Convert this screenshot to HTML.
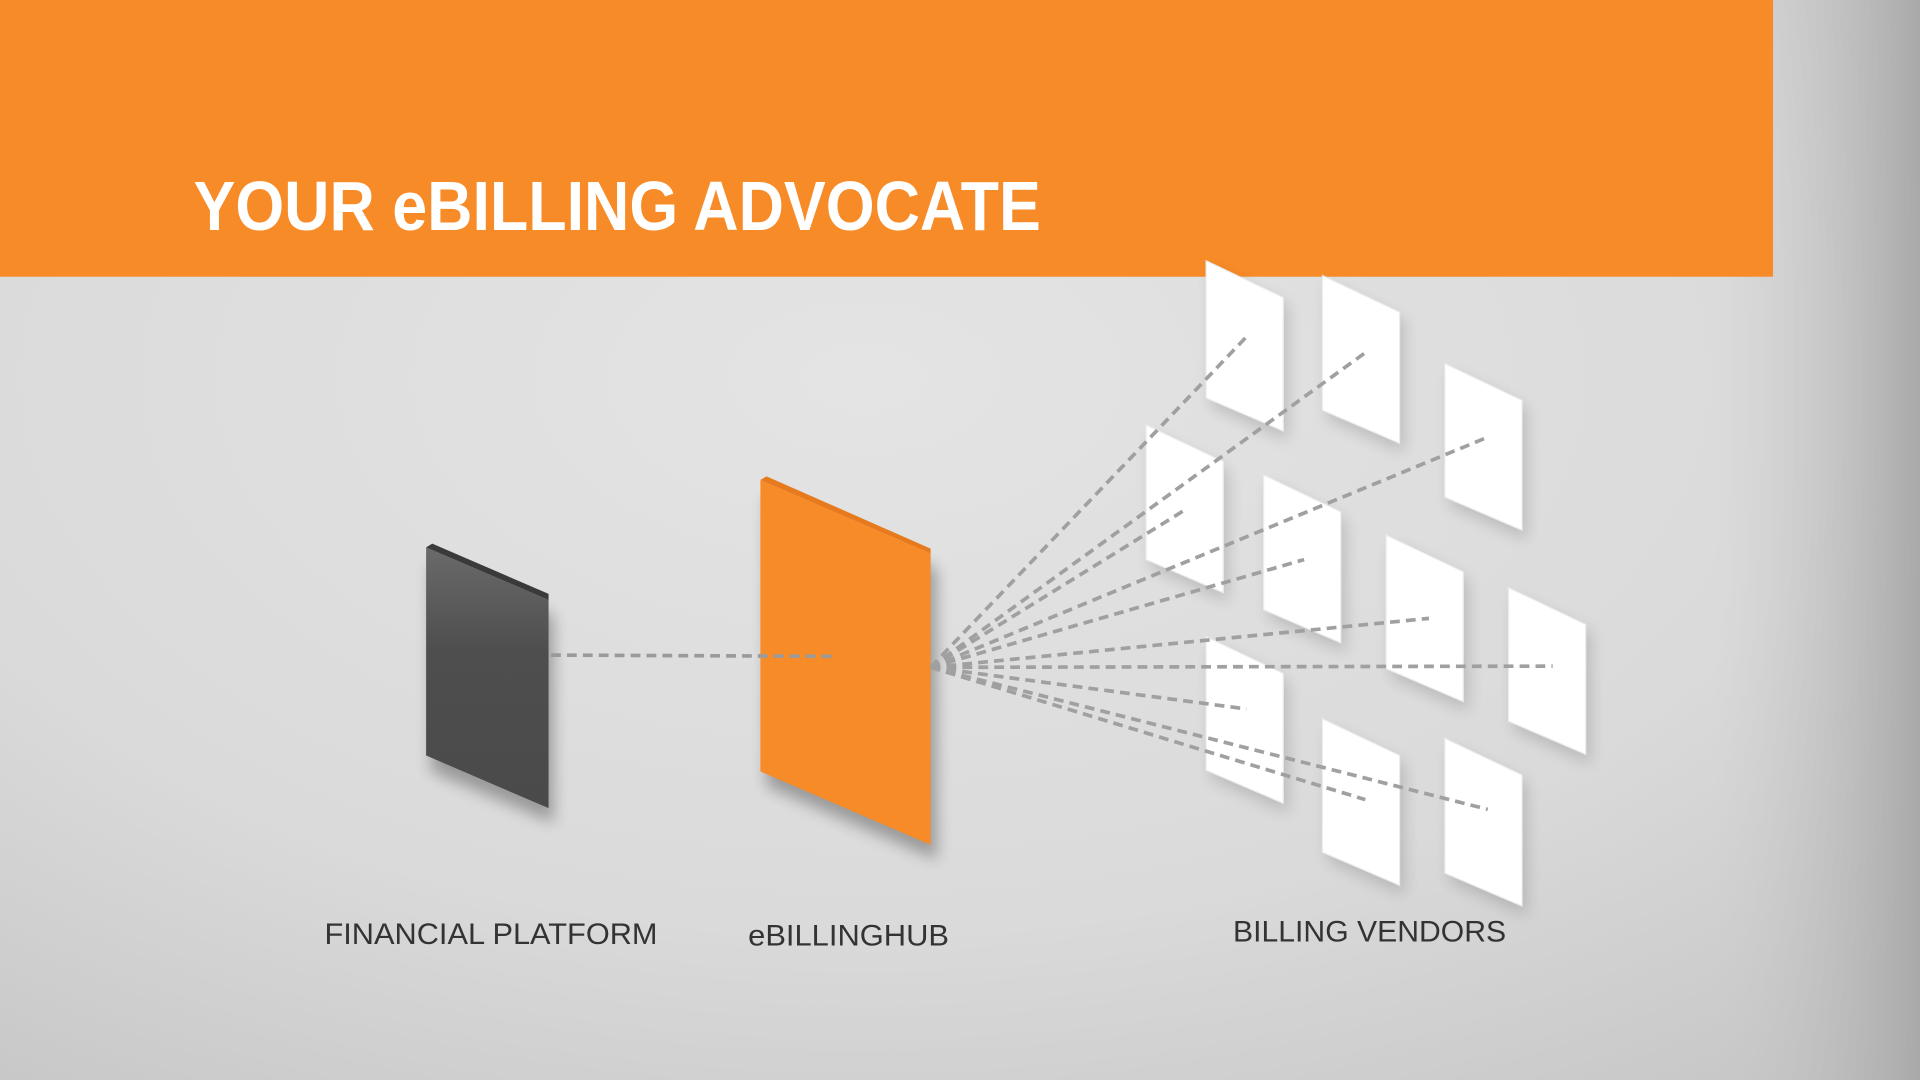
<!DOCTYPE html>
<html><head><meta charset="utf-8"><style>
html,body{margin:0;padding:0;width:1920px;height:1080px;overflow:hidden;background:#d8d8d8}
svg{display:block}
</style></head><body>
<svg width="1920" height="1080" viewBox="0 0 1568 882" xmlns="http://www.w3.org/2000/svg">
<defs>
<radialGradient id="bg" cx="0.45" cy="0.35" r="0.85">
<stop offset="0" stop-color="#e4e4e4"/><stop offset="0.6" stop-color="#dadada"/><stop offset="1" stop-color="#c4c4c4"/>
</radialGradient>
<linearGradient id="rt" x1="0" x2="1" y1="0" y2="0">
<stop offset="0" stop-color="#c9c9c9" stop-opacity="0"/><stop offset="1" stop-color="#a9a9a9"/>
</linearGradient>
<linearGradient id="dk" x1="0" y1="0" x2="0" y2="1">
<stop offset="0" stop-color="#6a6a6a"/><stop offset="0.4" stop-color="#4e4e4e"/><stop offset="1" stop-color="#4a4a4a"/>
</linearGradient>
<filter id="sh" x="-50%" y="-50%" width="200%" height="200%"><feGaussianBlur stdDeviation="6"/></filter>
</defs>
<rect width="1568" height="882" fill="url(#bg)"/>
<rect x="1400" width="168" height="882" fill="url(#rt)"/>
<rect x="0" y="0" width="1448" height="226" fill="#f78b28"/>
<text x="158" y="188" font-family="Liberation Sans, sans-serif" font-weight="bold" font-size="57" fill="#fff" textLength="692" lengthAdjust="spacingAndGlyphs">YOUR eBILLING ADVOCATE</text>

<g fill="#000" opacity="0.3" filter="url(#sh)">
<polygon points="352,460 452,503 452,672 352,630"/>
<polygon points="626,405 765,465 765,702 626,642"/>
</g>
<polygon points="348,447 448,490 448,660 348,617" fill="url(#dk)"/>
<polygon points="348,447 353,444 448,485 448,490" fill="#3a3a3a"/>
<polygon points="621,392 760,452 760,690 621,630" fill="#f78b28"/>
<polygon points="621,392 626,389 760,448 760,452" fill="#e67a1c"/>
<line x1="450" y1="535" x2="682" y2="536" stroke="#9a9a9a" stroke-width="3" stroke-dasharray="8,5"/>

<g>
<g fill="#000" opacity="0.15" filter="url(#sh)">
<polygon points="989,220 1052,250 1052,360 989,332"/>
<polygon points="1084,232 1147,262 1147,370 1084,342"/>
<polygon points="1184,304 1247,334 1247,441 1184,413"/>
<polygon points="940,354 1003,384 1003,492 940,464"/>
<polygon points="1036,395 1099,425 1099,533 1036,505"/>
<polygon points="1136,444 1199,474 1199,581 1136,553"/>
<polygon points="1236,487 1299,517 1299,624 1236,596"/>
<polygon points="989,527 1052,557 1052,664 989,636"/>
<polygon points="1084,594 1147,624 1147,731 1084,703"/>
<polygon points="1184,610 1247,640 1247,748 1184,720"/>
</g>
<g fill="#fff" stroke="#ececec" stroke-width="1">
<polygon points="985,213 1048,243 1048,352 985,325"/>
<polygon points="1080,225 1143,255 1143,362 1080,335"/>
<polygon points="1180,297 1243,327 1243,433 1180,406"/>
<polygon points="936,347 999,377 999,484 936,457"/>
<polygon points="1032,388 1095,418 1095,525 1032,498"/>
<polygon points="1132,437 1195,467 1195,573 1132,546"/>
<polygon points="1232,480 1295,510 1295,616 1232,589"/>
<polygon points="985,520 1048,550 1048,656 985,629"/>
<polygon points="1080,587 1143,617 1143,723 1080,696"/>
<polygon points="1180,603 1243,633 1243,740 1180,713"/>
</g>
</g>

<g stroke="#a0a0a0" stroke-width="3" stroke-dasharray="8,5" fill="none">
<line x1="760" y1="545" x2="1018" y2="275"/>
<line x1="760" y1="545" x2="1115" y2="288"/>
<line x1="760" y1="545" x2="1215" y2="357"/>
<line x1="760" y1="545" x2="970" y2="415"/>
<line x1="760" y1="545" x2="1065" y2="457"/>
<line x1="760" y1="545" x2="1167" y2="505"/>
<line x1="760" y1="545" x2="1268" y2="544"/>
<line x1="760" y1="545" x2="1018" y2="579"/>
<line x1="760" y1="545" x2="1115" y2="653"/>
<line x1="760" y1="545" x2="1215" y2="661"/>
</g>

<g font-family="Liberation Sans, sans-serif" font-size="24" fill="#333">
<text x="265" y="771" textLength="272" lengthAdjust="spacingAndGlyphs">FINANCIAL PLATFORM</text>
<text x="611" y="772" textLength="164" lengthAdjust="spacingAndGlyphs">eBILLINGHUB</text>
<text x="1007" y="769" textLength="223" lengthAdjust="spacingAndGlyphs">BILLING VENDORS</text>
</g>
</svg>
</body></html>
